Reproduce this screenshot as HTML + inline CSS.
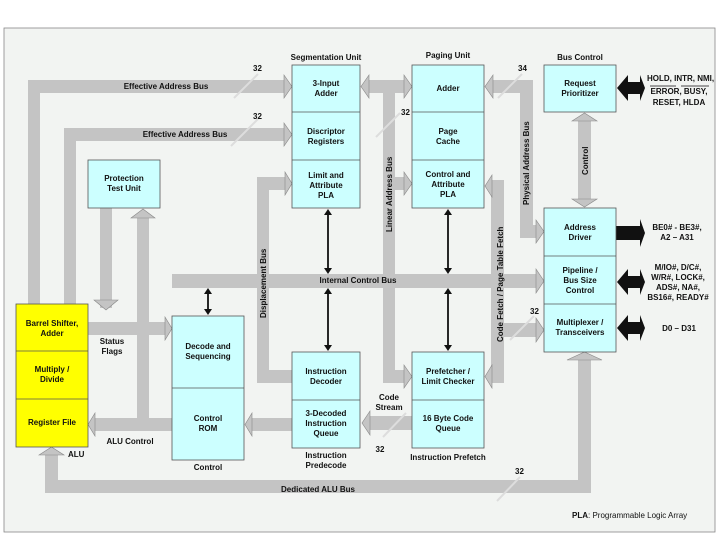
<!DOCTYPE html>
<html><head><meta charset="utf-8"><style>
html,body{margin:0;padding:0;background:#fff}
svg{display:block}
text{font-family:"Liberation Sans",Arial,sans-serif;font-weight:bold;font-size:8px;fill:#111}
.b{fill:#ccffff;stroke:#555;stroke-width:0.8}
.y{fill:#ffff00;stroke:#555;stroke-width:0.8}
.g{fill:#c4c4c4;stroke:none}
.h{fill:#c4c4c4;stroke:#888;stroke-width:0.6}
.k{fill:#111}
.m{text-anchor:middle}
</style></head><body>
<svg width="720" height="540" viewBox="0 0 720 540">
<rect x="4" y="28" width="711" height="504" fill="#f2f4f2" stroke="#888" stroke-width="0.8"/>

<rect class="g" x="28" y="80" width="12" height="224"/>
<rect class="g" x="28" y="80" width="258" height="13"/>
<polygon class="h" points="284,75 292,86.5 284,98"/>
<rect class="g" x="64" y="128" width="12" height="176"/>
<rect class="g" x="64" y="128" width="222" height="13"/>
<polygon class="h" points="284,123 292,134.5 284,146"/>
<line x1="234" y1="98" x2="258" y2="74" stroke="#ddd" stroke-width="2"/>
<line x1="231" y1="146" x2="258" y2="119" stroke="#ddd" stroke-width="2"/>
<text x="253" y="71">32</text><text x="253" y="119">32</text>
<text class="m" x="166" y="89">Effective Address Bus</text>
<text class="m" x="185" y="137">Effective Address Bus</text>

<rect class="g" x="100" y="208" width="12" height="100"/>
<polygon class="h" points="94,300 106,310 118,300"/>
<rect class="g" x="137" y="218" width="12" height="206"/>
<polygon class="h" points="131,218 143,209 155,218"/>
<rect class="g" x="88" y="322" width="78" height="13"/>
<polygon class="h" points="165,317 172,328.5 165,340"/>
<text class="m" x="112" y="344">Status</text><text class="m" x="112" y="354">Flags</text>
<rect class="g" x="94" y="418" width="78" height="13"/>
<polygon class="h" points="95,413 88,424.5 95,436"/>
<text class="m" x="130" y="444">ALU Control</text>
<rect class="g" x="250" y="418" width="42" height="13"/>
<polygon class="h" points="252,413 245,424.5 252,436"/>
<rect class="g" x="368" y="416" width="44" height="14"/>
<polygon class="h" points="370,411 362,423 370,435"/>
<line x1="383" y1="437" x2="406" y2="413" stroke="#ddd" stroke-width="2"/>
<text class="m" x="389" y="400">Code</text><text class="m" x="389" y="410">Stream</text>
<text class="m" x="380" y="452">32</text>

<rect class="g" x="257" y="177" width="12" height="206"/>
<rect class="g" x="257" y="177" width="29" height="13"/>
<polygon class="h" points="285,172 292,183.5 285,195"/>
<rect class="g" x="257" y="370" width="35" height="13"/>

<rect class="g" x="383" y="80" width="12" height="303"/>
<rect class="g" x="368" y="80" width="37" height="13"/>
<polygon class="h" points="369,75 361,86.5 369,98"/>
<polygon class="h" points="404,75 412,86.5 404,98"/>
<rect class="g" x="383" y="177" width="22" height="13"/>
<polygon class="h" points="404,172 412,183.5 404,195"/>
<rect class="g" x="383" y="370" width="22" height="13"/>
<polygon class="h" points="404,365 412,376.5 404,388"/>
<line x1="376" y1="137" x2="400" y2="113" stroke="#ddd" stroke-width="2"/>
<text x="401" y="115">32</text>
<text x="0" y="0" transform="translate(392,232) rotate(-90)">Linear Address Bus</text>

<rect class="g" x="172" y="274" width="364" height="14"/>
<polygon class="h" points="536,269 544,281 536,293"/>
<text class="m" x="358" y="283">Internal Control Bus</text>
<text x="0" y="0" transform="translate(266,318) rotate(-90)">Displacement Bus</text>

<rect class="g" x="492" y="80" width="41" height="13"/>
<polygon class="h" points="493,75 485,86.5 493,98"/>
<rect class="g" x="520" y="80" width="13" height="158"/>
<rect class="g" x="520" y="225" width="17" height="13"/>
<polygon class="h" points="536,220 544,231.5 536,243"/>
<line x1="498" y1="98" x2="522" y2="74" stroke="#ddd" stroke-width="2"/>
<text x="518" y="71">34</text>
<text x="0" y="0" transform="translate(529,205) rotate(-90)">Physical Address Bus</text>

<rect class="g" x="491" y="180" width="13" height="203"/>
<rect class="g" x="492" y="180" width="12" height="12"/>
<polygon class="h" points="492,175 485,186 492,197"/>
<rect class="g" x="492" y="370" width="12" height="13"/>
<polygon class="h" points="492,365 485,376.5 492,388"/>
<rect class="g" x="504" y="323" width="33" height="14"/>
<polygon class="h" points="536,318 544,330 536,342"/>
<line x1="510" y1="340" x2="534" y2="316" stroke="#ddd" stroke-width="2"/>
<text x="530" y="314">32</text>
<text x="0" y="0" transform="translate(503,342) rotate(-90)">Code Fetch / Page Table Fetch</text>

<rect class="g" x="578" y="120" width="13" height="80"/>
<polygon class="h" points="572,121 584.5,113 597,121"/>
<polygon class="h" points="572,199 584.5,207 597,199"/>
<text x="0" y="0" transform="translate(588,175) rotate(-90)">Control</text>

<rect class="g" x="578" y="360" width="13" height="133"/>
<polygon class="h" points="567,360 584.5,352 602,360"/>
<rect class="g" x="45" y="480" width="546" height="13"/>
<rect class="g" x="45" y="455" width="13" height="38"/>
<polygon class="h" points="39,455 51.5,447 64,455"/>
<line x1="497" y1="501" x2="520" y2="477" stroke="#ddd" stroke-width="2"/>
<text x="515" y="474">32</text>
<text class="m" x="318" y="492">Dedicated ALU Bus</text>
<text x="68" y="457">ALU</text>

<g stroke="#111" stroke-width="1.8" fill="#111">
<line x1="208" y1="292" x2="208" y2="310"/>
<line x1="328" y1="214" x2="328" y2="270"/>
<line x1="328" y1="292" x2="328" y2="346"/>
<line x1="448" y1="214" x2="448" y2="270"/>
<line x1="448" y1="292" x2="448" y2="346"/>
</g>
<g class="k">
<polygon points="204,294 208,288 212,294"/><polygon points="204,309 208,315 212,309"/>
<polygon points="324,215 328,209 332,215"/><polygon points="324,268 328,274 332,268"/>
<polygon points="324,294 328,288 332,294"/><polygon points="324,345 328,351 332,345"/>
<polygon points="444,215 448,209 452,215"/><polygon points="444,268 448,274 452,268"/>
<polygon points="444,294 448,288 452,294"/><polygon points="444,345 448,351 452,345"/>
<polygon points="617,88 628,75 628,82 640,82 640,75 645,88 640,101 640,94 628,94 628,101"/>
<polygon points="615,226 640,226 640,219 645,233 640,247 640,240 615,240"/>
<polygon points="617,282 628,269 628,276 640,276 640,269 645,282 640,295 640,288 628,288 628,295"/>
<polygon points="617,328 628,315 628,322 640,322 640,315 645,328 640,341 640,334 628,334 628,341"/>
</g>
<text x="647" y="81">HOLD, INTR, NMI,</text>
<text class="m" x="679" y="94">ERROR, BUSY,</text>
<line x1="650" y1="86" x2="676" y2="86" stroke="#111" stroke-width="0.8"/>
<line x1="681" y1="86" x2="709" y2="86" stroke="#111" stroke-width="0.8"/>
<text class="m" x="679" y="105">RESET, HLDA</text>
<text class="m" x="677" y="230">BE0# - BE3#,</text>
<text class="m" x="677" y="240">A2 – A31</text>
<text class="m" x="678" y="270">M/IO#, D/C#,</text>
<text class="m" x="678" y="280">W/R#, LOCK#,</text>
<text class="m" x="678" y="290">ADS#, NA#,</text>
<text class="m" x="678" y="300">BS16#, READY#</text>
<text class="m" x="679" y="331">D0 – D31</text>

<text class="m" x="326" y="60">Segmentation Unit</text>
<rect class="b" x="292" y="65" width="68" height="143"/>
<line x1="292" y1="112" x2="360" y2="112" stroke="#555" stroke-width="0.8"/>
<line x1="292" y1="160" x2="360" y2="160" stroke="#555" stroke-width="0.8"/>
<text class="m" x="326" y="86">3-Input</text><text class="m" x="326" y="96">Adder</text>
<text class="m" x="326" y="134">Discriptor</text><text class="m" x="326" y="144">Registers</text>
<text class="m" x="326" y="178">Limit and</text><text class="m" x="326" y="188">Attribute</text><text class="m" x="326" y="198">PLA</text>

<text class="m" x="448" y="58">Paging Unit</text>
<rect class="b" x="412" y="65" width="72" height="143"/>
<line x1="412" y1="112" x2="484" y2="112" stroke="#555" stroke-width="0.8"/>
<line x1="412" y1="160" x2="484" y2="160" stroke="#555" stroke-width="0.8"/>
<text class="m" x="448" y="91">Adder</text>
<text class="m" x="448" y="134">Page</text><text class="m" x="448" y="144">Cache</text>
<text class="m" x="448" y="177">Control and</text><text class="m" x="448" y="187">Attribute</text><text class="m" x="448" y="197">PLA</text>

<text class="m" x="580" y="60">Bus Control</text>
<rect class="b" x="544" y="65" width="72" height="47"/>
<text class="m" x="580" y="86">Request</text><text class="m" x="580" y="96">Prioritizer</text>

<rect class="b" x="544" y="208" width="72" height="144"/>
<line x1="544" y1="256" x2="616" y2="256" stroke="#555" stroke-width="0.8"/>
<line x1="544" y1="304" x2="616" y2="304" stroke="#555" stroke-width="0.8"/>
<text class="m" x="580" y="230">Address</text><text class="m" x="580" y="240">Driver</text>
<text class="m" x="580" y="273">Pipeline /</text><text class="m" x="580" y="283">Bus Size</text><text class="m" x="580" y="293">Control</text>
<text class="m" x="580" y="325">Multiplexer /</text><text class="m" x="580" y="335">Transceivers</text>

<rect class="b" x="88" y="160" width="72" height="48"/>
<text class="m" x="124" y="181">Protection</text><text class="m" x="124" y="191">Test Unit</text>

<rect class="y" x="16" y="304" width="72" height="143"/>
<line x1="16" y1="351" x2="88" y2="351" stroke="#555" stroke-width="0.8"/>
<line x1="16" y1="399" x2="88" y2="399" stroke="#555" stroke-width="0.8"/>
<text class="m" x="52" y="326">Barrel Shifter,</text><text class="m" x="52" y="336">Adder</text>
<text class="m" x="52" y="372">Multiply /</text><text class="m" x="52" y="382">Divide</text>
<text class="m" x="52" y="425">Register File</text>

<rect class="b" x="172" y="316" width="72" height="144"/>
<line x1="172" y1="388" x2="244" y2="388" stroke="#555" stroke-width="0.8"/>
<text class="m" x="208" y="349">Decode and</text><text class="m" x="208" y="359">Sequencing</text>
<text class="m" x="208" y="421">Control</text><text class="m" x="208" y="431">ROM</text>
<text class="m" x="208" y="470">Control</text>

<rect class="b" x="292" y="352" width="68" height="96"/>
<line x1="292" y1="400" x2="360" y2="400" stroke="#555" stroke-width="0.8"/>
<text class="m" x="326" y="374">Instruction</text><text class="m" x="326" y="384">Decoder</text>
<text class="m" x="326" y="416">3-Decoded</text><text class="m" x="326" y="426">Instruction</text><text class="m" x="326" y="436">Queue</text>
<text class="m" x="326" y="458">Instruction</text><text class="m" x="326" y="468">Predecode</text>

<rect class="b" x="412" y="352" width="72" height="96"/>
<line x1="412" y1="400" x2="484" y2="400" stroke="#555" stroke-width="0.8"/>
<text class="m" x="448" y="374">Prefetcher /</text><text class="m" x="448" y="384">Limit Checker</text>
<text class="m" x="448" y="421">16 Byte Code</text><text class="m" x="448" y="431">Queue</text>
<text class="m" x="448" y="460">Instruction Prefetch</text>

<text x="572" y="518">PLA<tspan font-weight="normal">: Programmable Logic Array</tspan></text>
</svg>
</body></html>
